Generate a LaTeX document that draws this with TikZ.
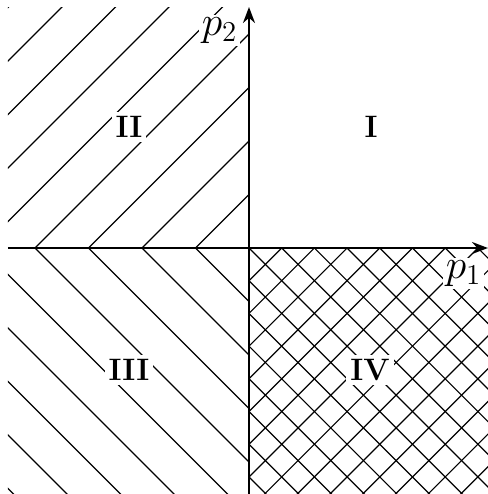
\documentclass[tikz,border=0pt]{standalone}
\usetikzlibrary{arrows.meta}
\begin{document}
\begin{tikzpicture}[
		x=0.5pt, y=0.5pt,
		axis/.style={line width=1.2pt,-{Stealth[length=8pt,width=6pt]}},
		hatch/.style={line width=0.6pt},
		region/.style={fill=white,inner sep=2pt,font=\fontsize{15.5}{18}\selectfont\bfseries},
		axislabel/.style={fill=white,inner sep=1.5pt,font=\huge}
	]
	\useasboundingbox (-249,-246) rectangle (239,248);
	\begin{scope}
		\clip (-241,0) rectangle (0,241);
		\foreach \k in {1,...,9}
			\draw[hatch] ({-53.5*\k-300},-300) -- ({-53.5*\k+300},300);
	\end{scope}
	\begin{scope}
		\clip (-241,-250) rectangle (0,0);
		\foreach \k in {1,...,10}
			\draw[hatch] ({-53.5*\k-300},300) -- ({-53.5*\k+300},-300);
	\end{scope}
	\begin{scope}
		\clip (0,-250) rectangle (245,0);
		\foreach \k in {-8,...,8}
			\draw[hatch] ({32.7*\k-300},300) -- ({32.7*\k+300},-300);
		\foreach \k in {0,...,15}
			\draw[hatch] ({32.7*\k-300},-300) -- ({32.7*\k+300},300);
	\end{scope}
	\coordinate (xl) at (-241,0);
	\coordinate (xr) at (239,0);
	\coordinate (yb) at (0,-250);
	\coordinate (yt) at (0,241);
	\draw[axis] (xl) -- (xr);
	\draw[axis] (yb) -- (yt);
	\node[region] (regI) at (122,121) {I};
	\node[region] (regII) at (-120,121) {II};
	\node[region] (regIII) at (-120,-122) {III};
	\node[region] (regIV) at (121,-122) {IV};
	\node[axislabel] (lblpone) at (214.5,-25.5) {$p_1$};
	\node[axislabel] (lblptwo) at (-29.5,217.5) {$p_2$};
\end{tikzpicture}
\end{document}
